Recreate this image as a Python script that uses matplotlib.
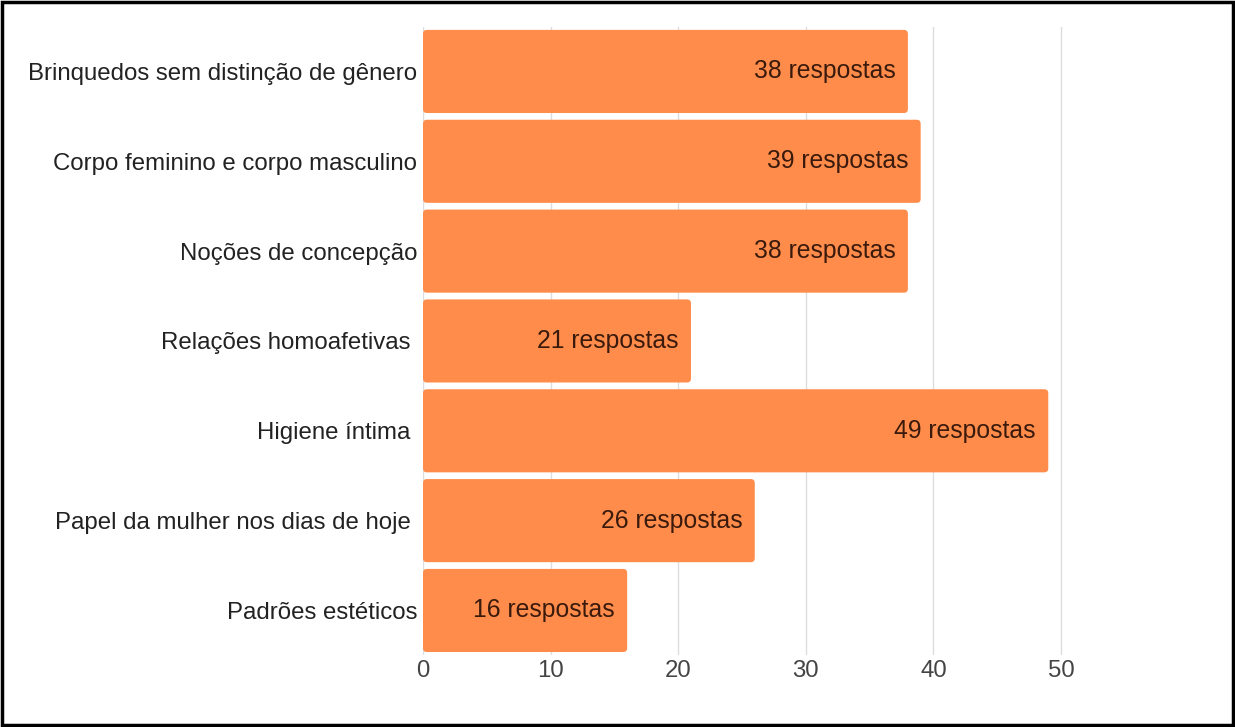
import matplotlib
matplotlib.use("Agg")
import matplotlib.pyplot as plt
from matplotlib.patches import FancyBboxPatch, Rectangle

# Topics and number of answers
topics = [
    "Brinquedos sem distinção de gênero",
    "Corpo feminino e corpo masculino",
    "Noções de concepção",
    "Relações homoafetivas ",
    "Higiene íntima ",
    "Papel da mulher nos dias de hoje ",
    "Padrões estéticos",
]
answers = [38, 39, 38, 21, 49, 26, 16]
x_ticks = [0, 10, 20, 30, 40, 50]

bar_color = "#ff8c4a"
label_color = "#3a1a0c"

plt.rcParams["font.family"] = ["Liberation Sans", "DejaVu Sans"]

fig = plt.figure(figsize=(12.35, 7.27), dpi=100)
ax = fig.add_axes([0.3425, 0.0985, 0.5218, 0.865])

positions = list(range(len(topics)))
bar_h = 0.925

ax.set_xlim(0, 50.5)
ax.set_ylim(len(topics) - 0.5, -0.5)

# bars with slightly rounded corners (radius in display pixels converted to data)
px_x = 50.5 / (0.5218 * 1235)
px_y = 7.0 / (0.865 * 727)
r = 4
for y, v in zip(positions, answers):
    patch = FancyBboxPatch((0, y - bar_h / 2), v, bar_h,
                           boxstyle=f"round,pad=0,rounding_size={r * px_x}",
                           mutation_aspect=px_y / px_x,
                           facecolor=bar_color, edgecolor="none", zorder=2)
    ax.add_patch(patch)
    ax.annotate(f"{v} respostas", xy=(v, y), xytext=(-9, 0),
                textcoords="offset points", ha="right", va="center",
                fontsize=17.8, color=label_color, zorder=3)

ax.set_yticks(positions)
ax.set_yticklabels(topics, fontsize=17.3, color="#222222")
ax.set_xticks(x_ticks)
ax.set_xticklabels([str(t) for t in x_ticks], fontsize=17.3, color="#444444")
ax.tick_params(axis="both", length=0)
ax.tick_params(axis="y", pad=4)
ax.tick_params(axis="x", pad=3)

ax.grid(axis="x", color="#dddddd", linewidth=1, zorder=0)
ax.set_axisbelow(True)
for s in ax.spines.values():
    s.set_visible(False)

# black frame around the whole figure
fig.patches.append(Rectangle((0.002, 0.003), 0.996, 0.994, transform=fig.transFigure,
                             fill=False, edgecolor="black", linewidth=2.5))

fig.savefig("out.png", dpi=100)
